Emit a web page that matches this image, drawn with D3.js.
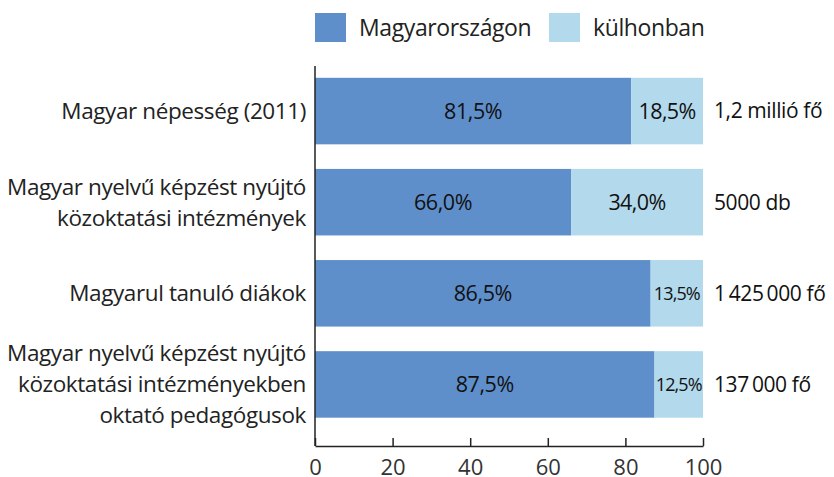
<!DOCTYPE html>
<html>
<head>
<meta charset="utf-8">
<script src="https://cdn.jsdelivr.net/npm/d3@7"></script>
<style>
  body { margin: 0; background: #fff; }
  text { font-family: "Open Sans", "Noto Sans", sans-serif; }
</style>
</head>
<body>
<svg id="chart" width="834" height="477"></svg>
<script>
// chart data
var categories = [
	["Magyar népesség (2011)"],
	["Magyar nyelvű képzést nyújtó", "közoktatási intézmények"],
	["Magyarul tanuló diákok"],
	["Magyar nyelvű képzést nyújtó", "közoktatási intézményekben", "oktató pedagógusok"]
];
var home = [81.5, 66.0, 86.5, 87.5];
var abroad = [18.5, 34.0, 13.5, 12.5];
var totals = ["1,2 millió fő", "5000 db", "1\u2009425\u2009000 fő", "137\u2009000 fő"];
var seriesNames = ["Magyarországon", "külhonban"];
var xTicks = [0, 20, 40, 60, 80, 100];

var colors = ["#5e8fcb", "#b3d9ec"];

var svg = d3.select("#chart");

var x = d3.scaleLinear()
		.domain([0, 100])
		.range([315, 703]);

var y = d3.scaleBand()
		.domain(d3.range(categories.length))
		.range([65.5, 430])
		.paddingInner(0.27)
		.paddingOuter(0.135);

var fmt = function(v) { return v.toFixed(1).replace(".", ",") + "%"; };

// bars
var rows = svg.selectAll(".row")
		.data(categories)
		.enter().append("g")
		.attr("class", "row");

rows.append("rect")
		.attr("x", x(0))
		.attr("y", function(d, i) { return y(i); })
		.attr("width", function(d, i) { return x(home[i]) - x(0); })
		.attr("height", y.bandwidth())
		.attr("fill", colors[0]);

rows.append("rect")
		.attr("x", function(d, i) { return x(home[i]); })
		.attr("y", function(d, i) { return y(i); })
		.attr("width", function(d, i) { return x(home[i] + abroad[i]) - x(home[i]); })
		.attr("height", y.bandwidth())
		.attr("fill", colors[1]);

// value labels
rows.append("text")
		.attr("x", function(d, i) { return x(home[i] / 2); })
		.attr("y", function(d, i) { return y(i) + y.bandwidth() / 2; })
		.attr("dy", "0.35em")
		.attr("text-anchor", "middle")
		.style("font-size", "21.5px")
		.style("letter-spacing", "-0.4px")
		.attr("fill", "#111")
		.text(function(d, i) { return fmt(home[i]); });

rows.append("text")
		.attr("x", function(d, i) { return x(home[i] + abroad[i] / 2); })
		.attr("y", function(d, i) { return y(i) + y.bandwidth() / 2; })
		.attr("dy", "0.35em")
		.attr("text-anchor", "middle")
		.style("font-size", function(d, i) { return abroad[i] < 15 ? "18px" : "21.5px"; })
		.style("letter-spacing", function(d, i) { return abroad[i] < 15 ? "-0.9px" : "-0.6px"; })
		.attr("fill", "#111")
		.text(function(d, i) { return fmt(abroad[i]); });

// totals on the right
rows.append("text")
		.attr("x", 714)
		.attr("y", function(d, i) { return y(i) + y.bandwidth() / 2; })
		.attr("dy", "0.35em")
		.style("font-size", "21px")
		.style("letter-spacing", "-0.4px")
		.attr("fill", "#111")
		.text(function(d, i) { return totals[i]; });

// category labels
rows.each(function(d, i) {
	var lineH = 31;
	var cy = y(i) + y.bandwidth() / 2 - (d.length - 1) * lineH / 2;
	d3.select(this).selectAll(".cat")
		.data(d)
		.enter().append("text")
		.attr("class", "cat")
		.attr("x", 306)
		.attr("y", function(t, j) { return cy + j * lineH; })
		.attr("dy", "0.35em")
		.attr("text-anchor", "end")
		.style("font-size", "22.5px")
		.style("letter-spacing", "-0.4px")
		.attr("fill", "#222")
		.text(function(t) { return t; });
});

// axes
svg.append("line")
		.attr("x1", x(0)).attr("x2", x(0))
		.attr("y1", 66).attr("y2", 446)
		.attr("stroke", "#222")
		.attr("stroke-width", 1.5);

var xAxis = svg.append("g")
		.attr("transform", "translate(0,446)")
		.call(d3.axisBottom(x).tickValues(xTicks).tickSizeInner(-8).tickSizeOuter(0).tickPadding(13));

xAxis.select(".domain").attr("stroke", "#222").attr("stroke-width", 1.5);
xAxis.selectAll(".tick line").attr("stroke", "#222").attr("stroke-width", 1.5);
xAxis.selectAll(".tick text")
		.style("font-size", "22px")
		.style("font-family", "'Open Sans', 'Noto Sans', sans-serif")
		.attr("fill", "#333");

// legend
var legendX = [315, 549];
var legend = svg.selectAll(".legend")
		.data(seriesNames)
		.enter().append("g")
		.attr("class", "legend")
		.attr("transform", function(d, i) { return "translate(" + legendX[i] + ",13)"; });

legend.append("rect")
		.attr("width", 31)
		.attr("height", 29)
		.attr("fill", function(d, i) { return colors[i]; });

legend.append("text")
		.attr("x", 44)
		.attr("y", 15)
		.attr("dy", "0.35em")
		.style("font-size", "23px")
		.style("letter-spacing", "-0.4px")
		.attr("fill", "#222")
		.text(function(d) { return d; });
</script>
</body>
</html>
